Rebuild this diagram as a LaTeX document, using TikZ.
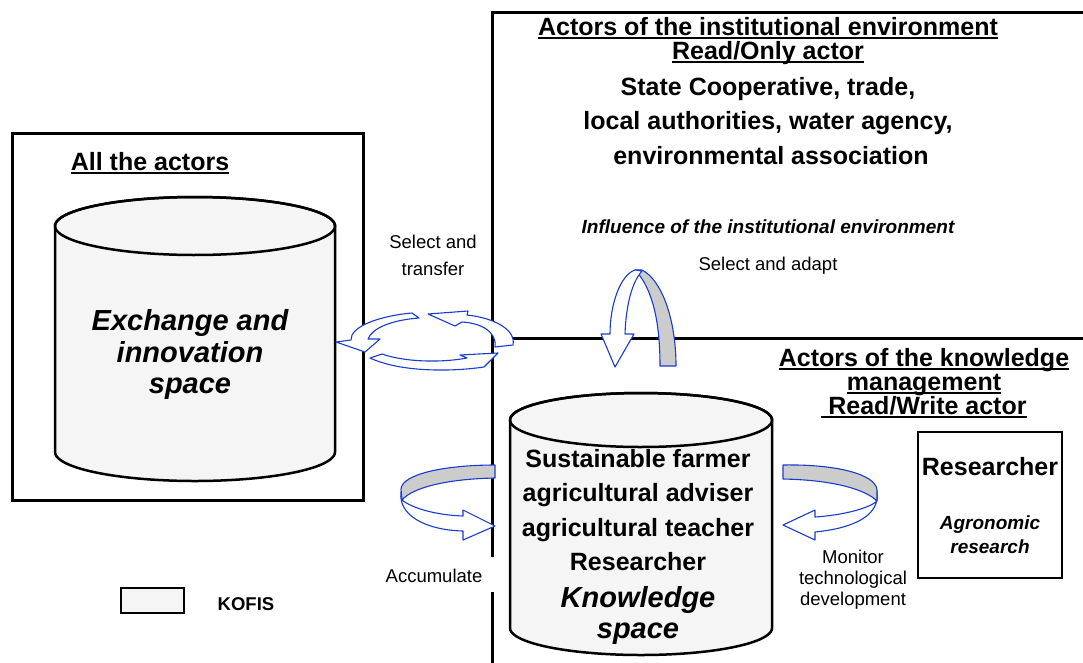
\documentclass[tikz,border=0pt]{standalone}
\usepackage{fontspec}
\setmainfont{Liberation Sans}
\definecolor{arrowblue}{RGB}{25,60,205}
\definecolor{ribgray}{RGB}{204,204,204}
\definecolor{cylfill}{RGB}{245,245,245}
\newcommand\ulx[1]{\setbox0\hbox{#1}\rlap{\rule[-4pt]{\wd0}{2pt}}\box0}
\newcommand\cylinderx[5]{% cx, rx, ytop, ybot, ry
  \path[cyl] ({#1-#2},#3) -- ({#1-#2},#4)
    -- plot[domain=180:0,samples=72] ({#1+#2*cos(\x)},{#4+#5*sin(\x)})
    -- ({#1+#2},#3)
    -- plot[domain=0:-180,samples=72] ({#1+#2*cos(\x)},{#3+#5*sin(\x)}) -- cycle;
  \draw[cylline] plot[domain=0:360,samples=120] ({#1+#2*cos(\x)},{#3+#5*sin(\x)}) -- cycle;
}
\begin{document}
\begin{tikzpicture}[x=1pt,y=-1pt,
  frame/.style={line width=3pt},
  cyl/.style={draw=black,line width=2.5pt,fill=cylfill,line join=round},
  cylline/.style={draw=black,line width=2.5pt},
  ribw/.style={draw=arrowblue,line width=1.1pt,fill=white,line join=round},
  ribg/.style={draw=arrowblue,line width=1.1pt,fill=ribgray,line join=round},
  hdr/.style={font=\fontsize{25}{25}\selectfont\bfseries,anchor=base,inner sep=0pt},
  uhdr/.style={hdr,text height=17pt,text depth=4pt},
  big/.style={font=\fontsize{29}{29}\selectfont\bfseries\itshape,anchor=base,inner sep=0pt},
  small/.style={font=\fontsize{18.5}{18.5}\selectfont,anchor=base,inner sep=0pt},
  smallb/.style={font=\fontsize{18.5}{18.5}\selectfont\bfseries,anchor=base,inner sep=0pt},
  smallbi/.style={font=\fontsize{19}{19}\selectfont\bfseries\itshape,anchor=base,inner sep=0pt}]
\useasboundingbox (0,0) rectangle (1083,662);
\fill[white] (0,0) rectangle (1083,662);

% frames
\draw[frame] (492,557) -- (492,12) -- (1090,12);
\draw[frame] (492,592) -- (492,670);
\draw[frame] (492,338) -- (1090,338);
\draw[frame] (12,133) rectangle (363,500);
\draw[line width=1.5pt] (918,432) rectangle (1062,578);
\draw[line width=2.5pt,fill=cylfill] (121,588) rectangle (184,613);

% cylinders
\cylinderx{195}{140}{226}{452}{29}
\cylinderx{641}{131}{420}{628}{27}

% circular arrows (select and transfer)
\draw[ribw] (412,313) .. controls (378,316) and (350,327) .. (351,340)
  -- (336,342) -- (365,352) -- (380,339) -- (368,339)
  .. controls (372,328) and (392,320) .. (419,318) -- cycle;
\draw[ribw] (370,358) .. controls (400,372) and (450,372) .. (484,367)
  -- (498,353) -- (460,355) -- (467,358)
  .. controls (440,363) and (405,362) .. (382,354) -- cycle;
\draw[ribw] (495,347) -- (513,345) .. controls (516,330) and (495,318) .. (467,315)
  -- (468,311) -- (428,314) -- (455,326) -- (462,322)
  .. controls (480,323) and (497,331) .. (495,347) -- cycle;

% arch arrow (select and adapt)
\draw[ribg] (635,270) -- (642,270) .. controls (662,280) and (676,320) .. (676,366)
  -- (660,366) .. controls (660,320) and (652,290) .. (637,272) -- cycle;
\draw[ribw] (635,270) .. controls (620,275) and (610,305) .. (610,334)
  -- (601,334) -- (615,367) -- (634,334) -- (625,334)
  .. controls (626,305) and (632,282) .. (642,271) -- cycle;

% accumulate arrow
\draw[ribw] (401,492) .. controls (398,515) and (425,530) .. (463,531)
  -- (463,540) -- (495,526) -- (463,510) -- (463,516)
  .. controls (435,515) and (412,508) .. (402,500) -- cycle;
\draw[ribg] (495,465) .. controls (445,465) and (402,474) .. (401,489)
  -- (402,500) .. controls (412,488) and (445,479) .. (495,478) -- cycle;

% monitor arrow
\draw[ribw] (877,492) .. controls (880,515) and (855,528) .. (815,532)
  -- (815,540) -- (783,525) -- (815,510) -- (815,517)
  .. controls (845,515) and (868,508) .. (876,502) -- cycle;
\draw[ribg] (783,465) .. controls (835,464) and (876,474) .. (877,490)
  -- (877,501) .. controls (866,490) and (835,480) .. (783,479) -- cycle;

% texts: institutional environment
\node[uhdr] (t1) at (768,35) {\ulx{Actors of the institutional environment}};
\node[uhdr] (t2) at (768,59) {\ulx{Read/Only actor}};
\node[hdr] (t3) at (768,95) {State Cooperative, trade,};
\node[hdr] (t4) at (768,129) {local authorities, water agency,};
\node[hdr] (t5) at (771,164) {environmental association};
\node[smallbi] (t6) at (768,233) {Influence of the institutional environment};
\node[small] (t7) at (768,270) {Select and adapt};

% left box
\node[hdr] (l1) at (150,170) {\ulx{All the actors}};
\node[big] (l2) at (190,330) {Exchange and};
\node[big] (l3) at (190,362) {innovation};
\node[big] (l4) at (190,393) {space};
\node[small] (s1) at (433,248) {Select and};
\node[small] (s2) at (433,275) {transfer};

% knowledge management
\node[uhdr] (k1) at (924,366) {\ulx{Actors of the knowledge}};
\node[uhdr] (k2) at (924,390) {\ulx{management}};
\node[uhdr] (k3) at (924,414) {\ulx{\ Read/Write actor}};

% knowledge space cylinder
\node[hdr] (c1) at (638,467) {Sustainable farmer};
\node[hdr] (c2) at (638,501) {agricultural adviser};
\node[hdr] (c3) at (638,536) {agricultural teacher};
\node[hdr] (c4) at (638,570) {Researcher};
\node[big] (c5) at (638,607) {Knowledge};
\node[big] (c6) at (638,638) {space};

\node[small] (acc) at (434,582) {Accumulate};
\node[small] (m1) at (853,563) {Monitor};
\node[small] (m2) at (853,584) {technological};
\node[small] (m3) at (853,605) {development};

% researcher box
\node[hdr] (r1) at (990,475) {Researcher};
\node[smallbi] (r2) at (990,529) {Agronomic};
\node[smallbi] (r3) at (990,553) {research};

% legend
\node[smallb] (kofis) at (246,610) {KOFIS};
\end{tikzpicture}
\end{document}
